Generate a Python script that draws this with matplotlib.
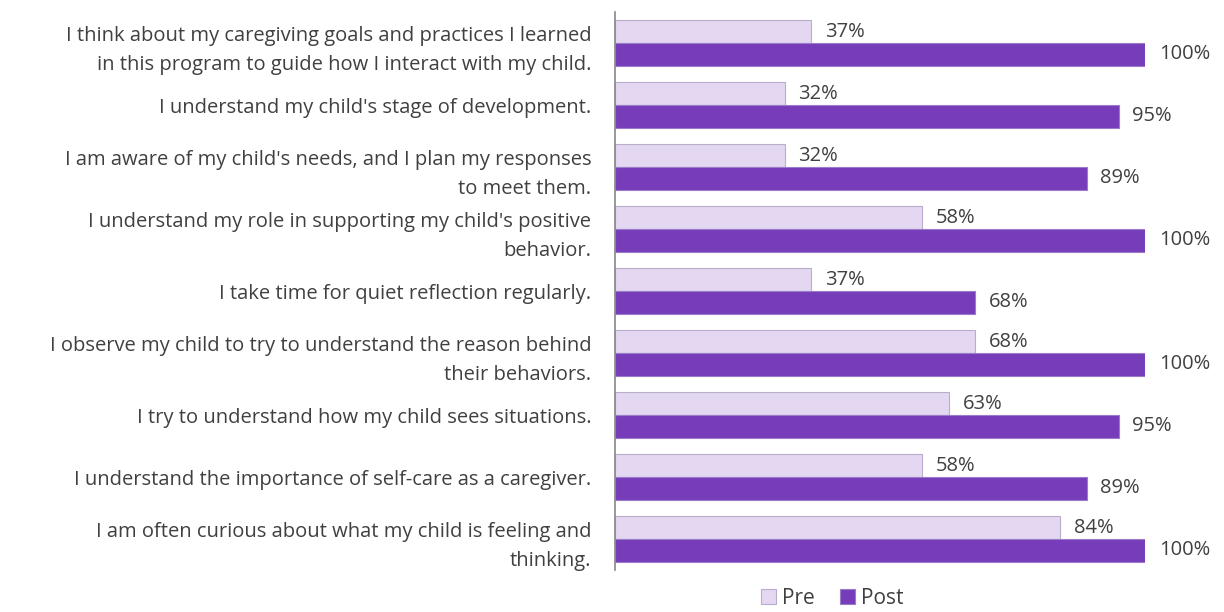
import matplotlib.pyplot as plt
import numpy as np

statements = [
    "I think about my caregiving goals and practices I learned\nin this program to guide how I interact with my child.",
    "I understand my child's stage of development.",
    "I am aware of my child's needs, and I plan my responses\nto meet them.",
    "I understand my role in supporting my child's positive\nbehavior.",
    "I take time for quiet reflection regularly.",
    "I observe my child to try to understand the reason behind\ntheir behaviors.",
    "I try to understand how my child sees situations.",
    "I understand the importance of self-care as a caregiver.",
    "I am often curious about what my child is feeling and\nthinking.",
]
pre_pct = [37, 32, 32, 58, 37, 68, 63, 58, 84]
post_pct = [100, 95, 89, 100, 68, 100, 95, 89, 100]

pre_color = "#E3D7F1"
post_color = "#763CB9"
text_color = "#404040"

plt.rcParams["font.family"] = ["Open Sans", "DejaVu Sans"]

fig = plt.figure(figsize=(12.24, 6.12), dpi=100)
ax = fig.add_axes([615 / 1224, 1 - 570 / 612, (1145 - 615) / 1224, 558 / 612])

y = np.arange(len(statements))
h = 0.37
pre_bars = ax.barh(y - h / 2, pre_pct, height=h, color=pre_color,
                   edgecolor="#B8AECB", linewidth=0.8, label="Pre")
post_bars = ax.barh(y + h / 2, post_pct, height=h, color=post_color,
                    edgecolor="#9A7CC8", linewidth=0.8, label="Post")

# value labels just past bar ends
for bars, vals in [(pre_bars, pre_pct), (post_bars, post_pct)]:
    for bar, v in zip(bars, vals):
        ax.text(bar.get_width() + 2.6, bar.get_y() + bar.get_height() / 2,
                f"{v}%", va="center", ha="left", fontsize=14.5,
                color=text_color, clip_on=False)

ax.set_xlim(0, 100)
ax.set_ylim(len(statements) - 0.5, -0.5)
ax.set_yticks(y)
ax.set_yticklabels(statements, fontsize=14.5, color=text_color, linespacing=1.65)
ax.tick_params(axis="y", length=0, pad=17)
ax.set_xticks([])

for side in ["top", "right", "bottom"]:
    ax.spines[side].set_visible(False)
ax.spines["left"].set_color("#888888")
ax.spines["left"].set_linewidth(1.2)

fig.legend(handles=[pre_bars, post_bars], labels=["Pre", "Post"],
           loc="lower center", bbox_to_anchor=(0.68, -0.025), ncol=2,
           frameon=False, fontsize=15, handlelength=0.7, handleheight=0.7,
           handletextpad=0.3, columnspacing=1.2, labelcolor=text_color)

fig.savefig("out.png", dpi=100)
